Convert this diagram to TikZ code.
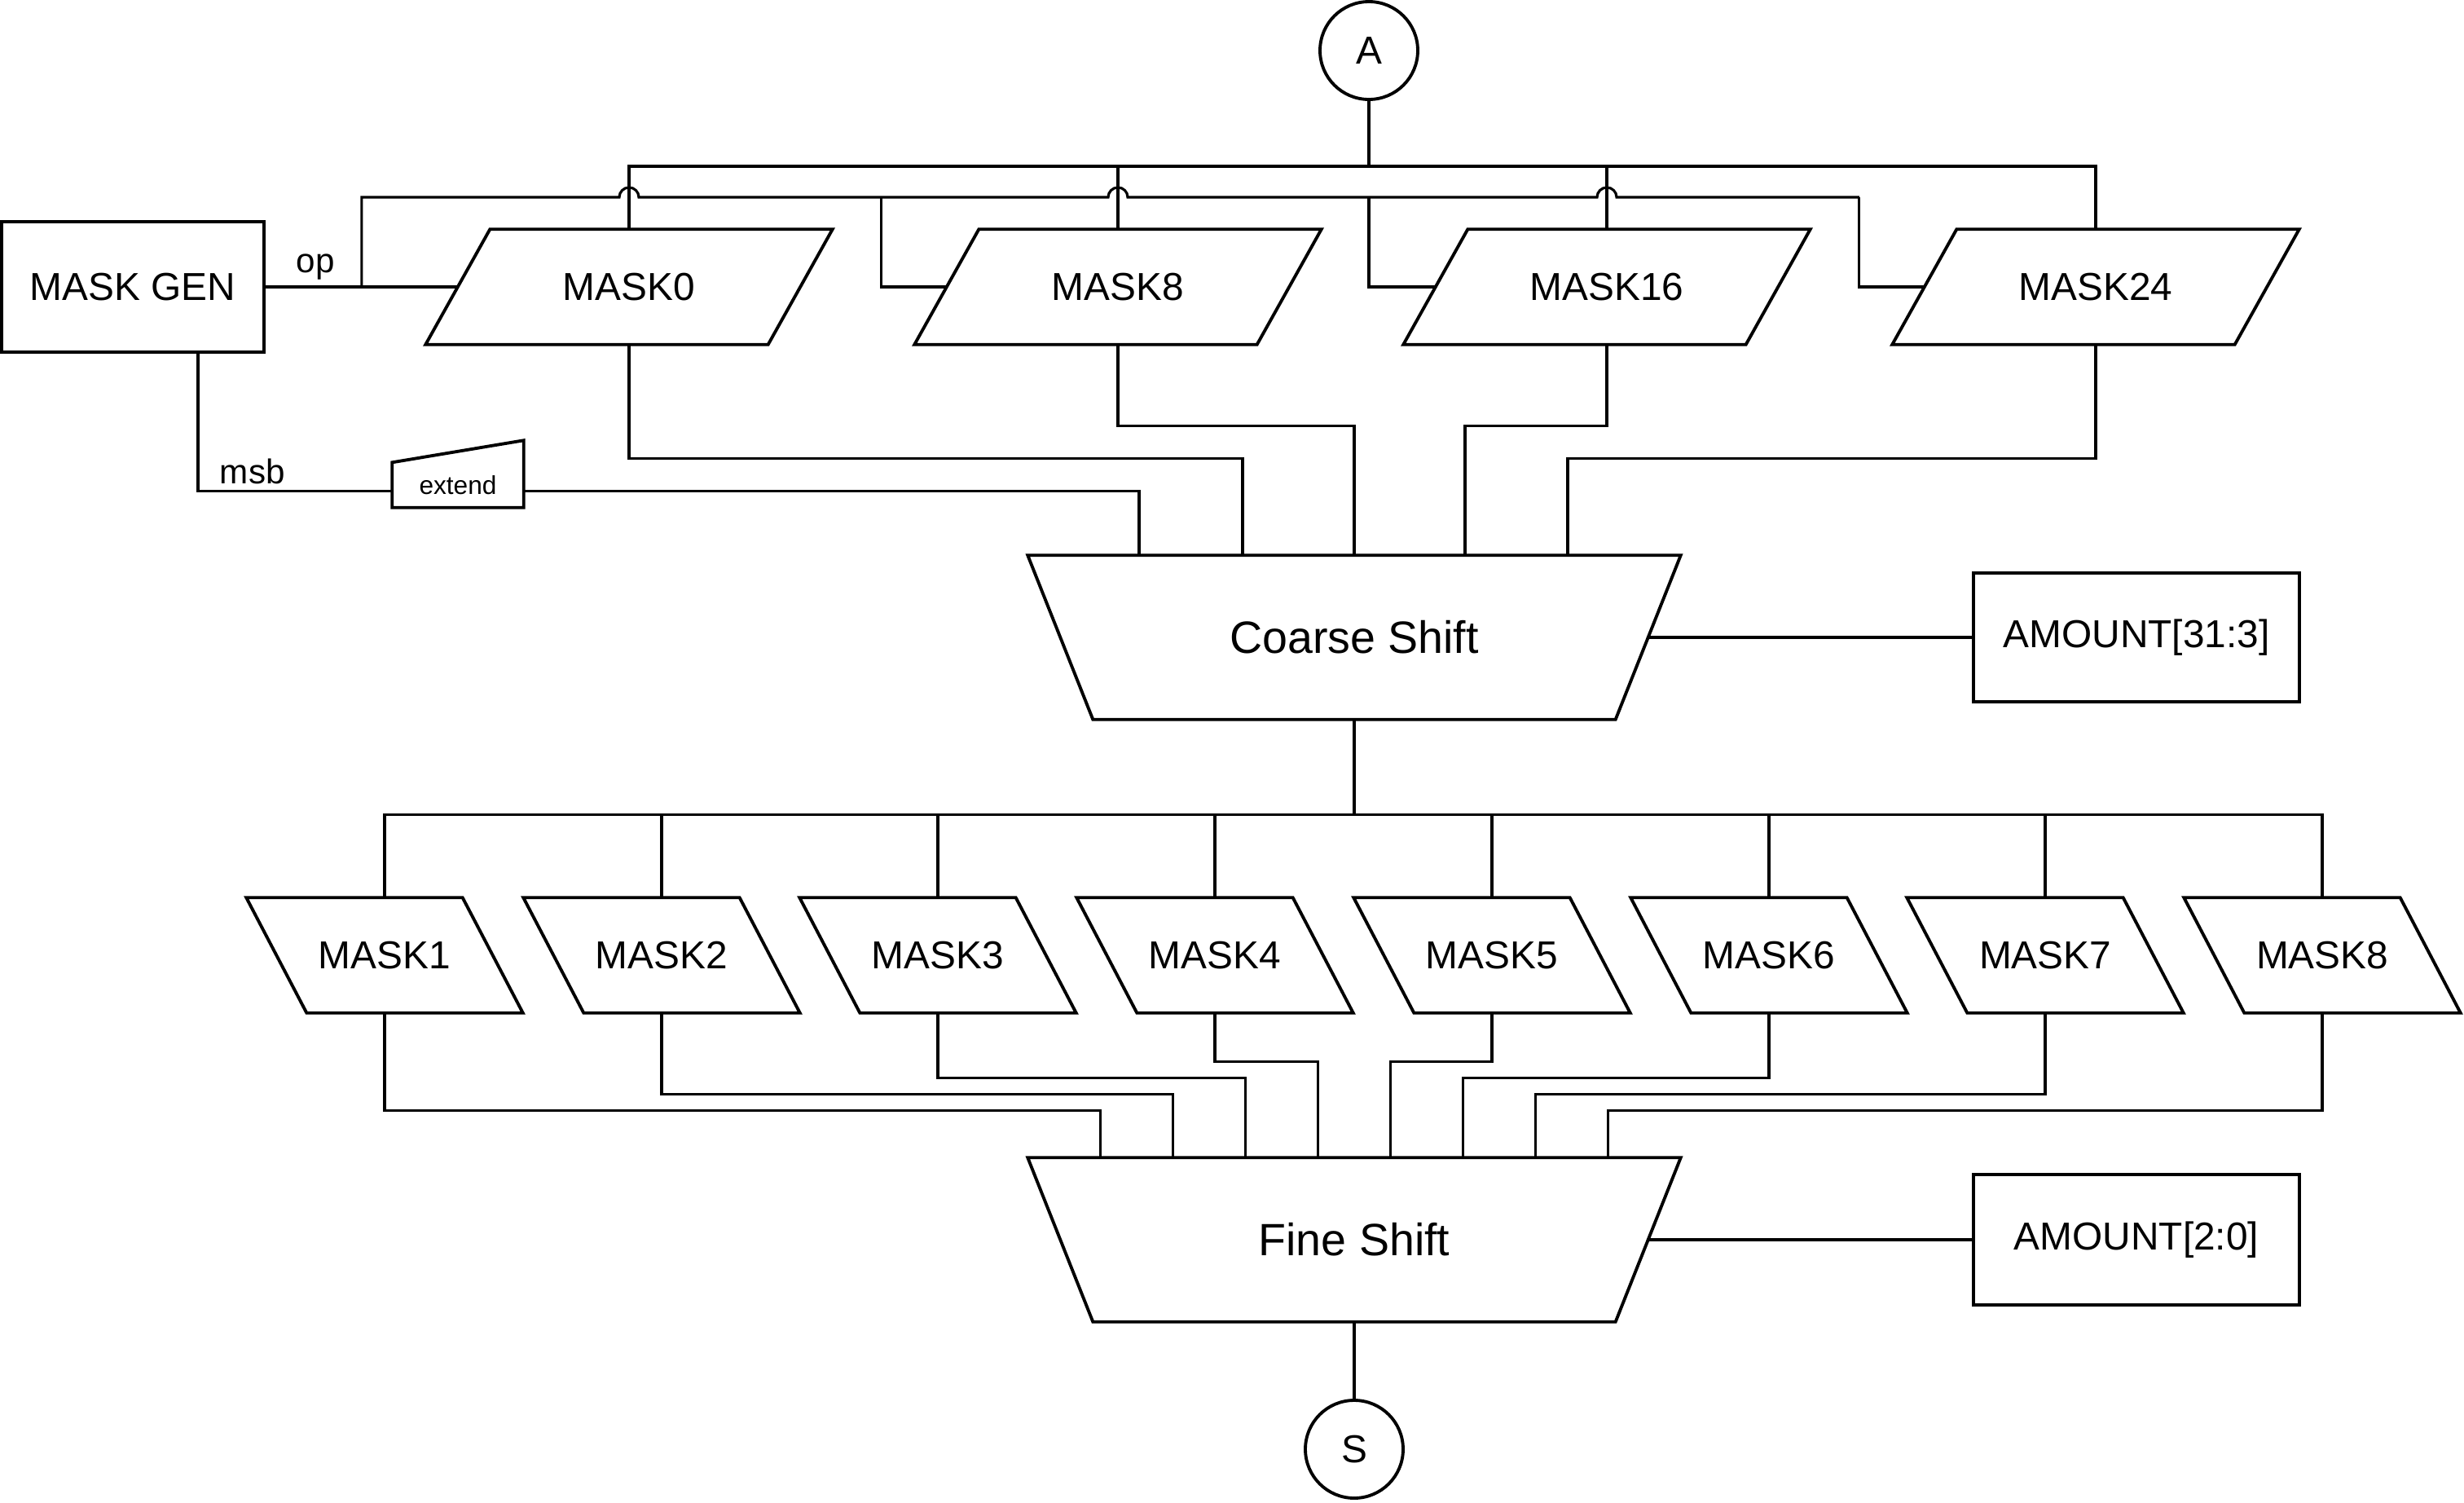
\documentclass[tikz,border=0pt]{standalone}
\usepackage{fontspec}
\setmainfont{Liberation Sans}
\usetikzlibrary{calc}

\begin{document}
\begin{tikzpicture}[
    wire/.style={line width=0.9pt},
    rand/.style={line width=1.1pt, line join=miter},
    txt/.style={font=\fontsize{13.6}{16}\selectfont},
    box/.style={txt, draw, rand, inner sep=0pt},
    maskbox/.style={txt, inner sep=0pt, minimum height=1.4cm},
    shiftbox/.style={font=\fontsize{15.8}{19}\selectfont, inner sep=0pt, minimum width=8cm, minimum height=2cm},
    lbl/.style={font=\fontsize{12}{14}\selectfont, inner sep=2pt},
    extbox/.style={font=\fontsize{9}{11}\selectfont, inner sep=0pt, minimum width=1.6cm, minimum height=0.54cm},
    io/.style={txt, draw, rand, circle, minimum size=1.2cm, inner sep=0pt}
  ]
    \useasboundingbox (0,0) rectangle (30.24,-18.44);

    % Eingang A
    \node[io] (a) at (16.80,-0.62) {A};

    % Maskengenerator
    \node[box, minimum width=3.22cm, minimum height=1.6cm] (mg) at (1.63,-3.52) {MASK GEN};

    % Masken oben
    \foreach \k/\x in {0/7.72, 8/13.72, 16/19.72, 24/25.72} {
      \node[maskbox, minimum width=4.19cm] (mk\k) at (\x,-3.52) {MASK\k};
      \draw[rand] ([xshift=0.395cm]mk\k.north west) -- ([xshift=0.395cm]mk\k.north east)
        -- ([xshift=-0.395cm]mk\k.south east) -- ([xshift=-0.395cm]mk\k.south west) -- cycle;
    }

    % extend
    \node[extbox] (ext) at (5.62,-5.95) {extend};
    \draw[rand] (ext.south west) -- (ext.north west) -- ([yshift=0.27cm]ext.north east) -- (ext.south east) -- cycle;

    % Coarse Shift
    \node[shiftbox] (cs) at (16.62,-7.82) {Coarse Shift};
    \draw[rand] (cs.north west) -- (cs.north east) -- ([xshift=-0.8cm]cs.south east) -- ([xshift=0.8cm]cs.south west) -- cycle;
    \node[box, minimum width=4cm, minimum height=1.58cm] (amt1) at (26.22,-7.82) {AMOUNT[31:3]};

    % Masken unten
    \foreach \k/\x in {1/4.72, 2/8.12, 3/11.51, 4/14.91, 5/18.31, 6/21.71, 7/25.10, 8/28.50} {
      \node[maskbox, minimum width=2.64cm] (fm\k) at (\x,-11.72) {MASK\k};
      \draw[rand] ([xshift=-0.37cm]fm\k.north west) -- ([xshift=-0.37cm]fm\k.north east)
        -- ([xshift=0.37cm]fm\k.south east) -- ([xshift=0.37cm]fm\k.south west) -- cycle;
    }

    % Fine Shift
    \node[shiftbox] (fs) at (16.62,-15.21) {Fine Shift};
    \draw[rand] (fs.north west) -- (fs.north east) -- ([xshift=-0.8cm]fs.south east) -- ([xshift=0.8cm]fs.south west) -- cycle;
    \node[box, minimum width=4cm, minimum height=1.6cm] (amt0) at (26.22,-15.21) {AMOUNT[2:0]};

    % Ausgang S
    \node[io] (s) at (16.62,-17.78) {S};

    % A an die Masken
    \draw[wire] (a.south) -- ++(0,-0.8) coordinate (abus);
    \draw[wire] (mk0.north) |- (abus) -| (mk24.north);
    \draw[wire] (mk8.north) -- (mk8.north |- abus);
    \draw[wire] (mk16.north) -- (mk16.north |- abus);

    % op mit Bruecken
    \coordinate (opj) at ($(mg.east)!0.5!(mk0.west)$);
    \coordinate (optop) at ([yshift=1.1cm]opj);
    \draw[wire] (mg.east) -- (mk0.west) node[lbl, pos=0.26, above] (op) {op};
    \draw[wire] (opj) -- (optop) -- ([xshift=-0.12cm]optop -| mk0.north) arc[start angle=180, end angle=0, radius=0.12]
      -- ([xshift=-0.12cm]optop -| mk8.north) arc[start angle=180, end angle=0, radius=0.12]
      -- ([xshift=-0.12cm]optop -| mk16.north) arc[start angle=180, end angle=0, radius=0.12]
      -- ([xshift=-0.8cm]mk24.west |- optop);
    \draw[wire] (mk8.west) -- ++(-0.8,0) -- ++(0,1.1);
    \draw[wire] (mk16.west) -| (a.south |- optop);
    \draw[wire] (mk24.west) -- ++(-0.8,0) -- ++(0,1.1);

    % msb ueber extend
    \draw[wire] ([xshift=0.8cm]mg.south) |- ([yshift=0.2cm]ext.south west) node[lbl, pos=0.64, above] (msb) {msb};
    \draw[wire] ([yshift=0.2cm]ext.south east) -| ([xshift=-2.64cm]cs.north);

    % Masken in Coarse Shift
    \draw[wire] (mk0.south) -- ++(0,-1.4) -| ([xshift=-1.37cm]cs.north);
    \draw[wire] (mk8.south) -- ++(0,-1.0) -| (cs.north);
    \draw[wire] (mk16.south) -- ++(0,-1.0) -| ([xshift=1.36cm]cs.north);
    \draw[wire] (mk24.south) -- ++(0,-1.4) -| ([xshift=2.62cm]cs.north);
    \draw[wire] ([xshift=-0.4cm]cs.east) -- (amt1.west);

    % Coarse Shift an die Masken unten
    \draw[wire] (cs.south) -- ++(0,-1.17) coordinate (cbus);
    \draw[wire] (fm1.north) |- (cbus) -| (fm8.north);
    \foreach \k in {2,...,7}
      \draw[wire] (fm\k.north) -- (fm\k.north |- cbus);

    % Masken in Fine Shift
    \foreach \k/\d/\o in {1/1.2/-3.115, 2/1.0/-2.225, 3/0.8/-1.335, 4/0.6/-0.445, 5/0.6/0.445, 6/0.8/1.335, 7/1.0/2.225, 8/1.2/3.115}
      \draw[wire] (fm\k.south) -- ++(0,-\d) -| ([xshift=\o cm]fs.north);
    \draw[wire] ([xshift=-0.4cm]fs.east) -- (amt0.west);
    \draw[wire] (fs.south) -- (s.north);

  \end{tikzpicture}
\end{document}
